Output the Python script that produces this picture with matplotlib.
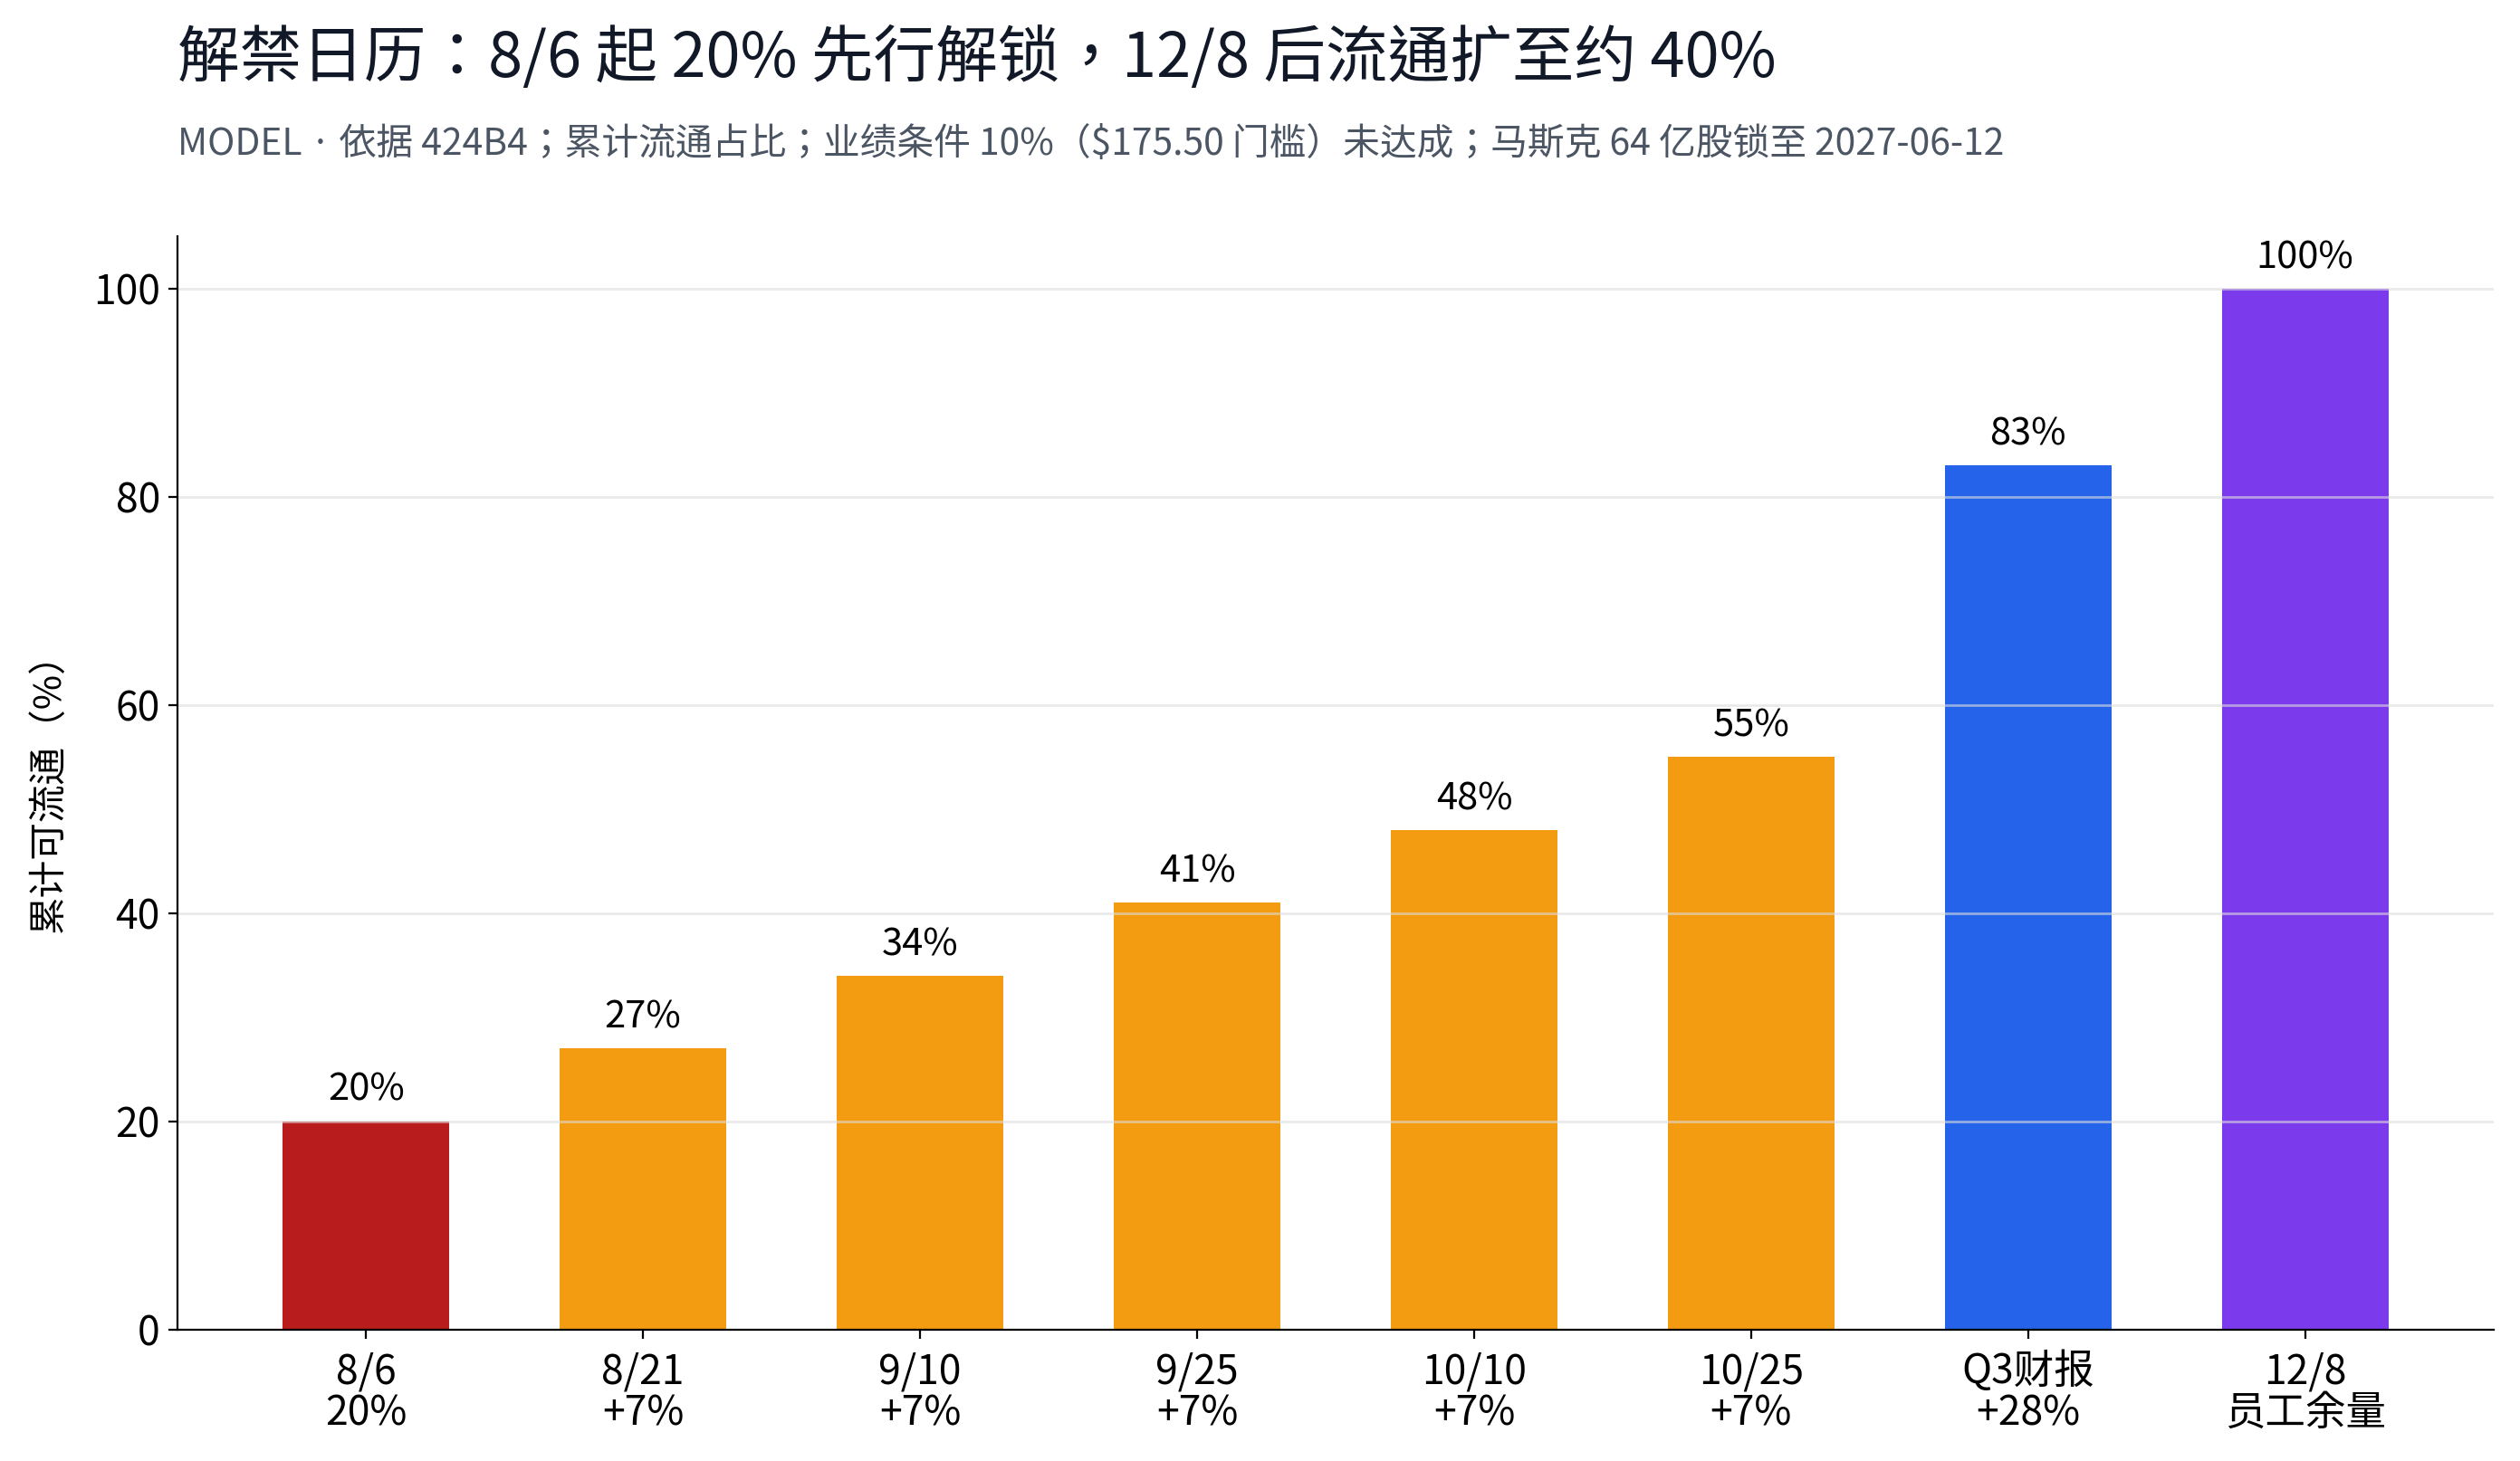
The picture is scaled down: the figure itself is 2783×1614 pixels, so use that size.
import matplotlib
matplotlib.use("Agg")
import matplotlib.pyplot as plt

plt.rcParams['font.family'] = ['Noto Sans CJK KR', 'DejaVu Sans']

# unlock calendar data
dates = ['8/6', '8/21', '9/10', '9/25', '10/10', '10/25', 'Q3财报', '12/8']
steps = ['20%', '+7%', '+7%', '+7%', '+7%', '+7%', '+28%', '员工余量']
cumulative = [20, 27, 34, 41, 48, 55, 83, 100]
colors = ['#b91c1c', '#f39c12', '#f39c12', '#f39c12', '#f39c12', '#f39c12',
          '#2563eb', '#7c3aed']

title = '解禁日历：8/6 起 20% 先行解锁，12/8 后流通扩至约 40%'
subtitle = ('MODEL · 依据 424B4；累计流通占比；业绩条件 10%（$175.50 门槛）未达成；'
            '马斯克 64 亿股锁至 2027-06-12')

fig = plt.figure(figsize=(13.915, 8.07), dpi=200)
ax = fig.add_axes([0.0705, 0.090, 0.919, 0.748])

x = list(range(len(dates)))
ax.bar(x, cumulative, width=0.6, color=colors)
for xi, v in zip(x, cumulative):
    ax.text(xi, v + 1.2, f'{v}%', ha='center', va='bottom', fontsize=15)

ax.set_xticks(x)
ax.set_xticklabels([f'{d}\n{s}' for d, s in zip(dates, steps)], fontsize=16,
                   linespacing=1.0)
ax.tick_params(axis='x', pad=5)
ax.tick_params(axis='y', labelsize=16)
ax.set_ylim(0, 105)
ax.set_ylabel('累计可流通（%）', fontsize=15, labelpad=10)
ax.yaxis.grid(True, color='#dddddd', alpha=0.6, linewidth=1.0)
ax.spines['top'].set_visible(False)
ax.spines['right'].set_visible(False)

# TC centres the full-width colon and comma like the reference
fig.text(0.0705, 0.959, title, fontsize=24.7, color='#111827', va='center',
         family=['Noto Sans CJK TC', 'DejaVu Sans'])
fig.text(0.0705, 0.901, subtitle, fontsize=14.7, color='#4b5563', va='center')

fig.savefig('out.png', dpi=200)
